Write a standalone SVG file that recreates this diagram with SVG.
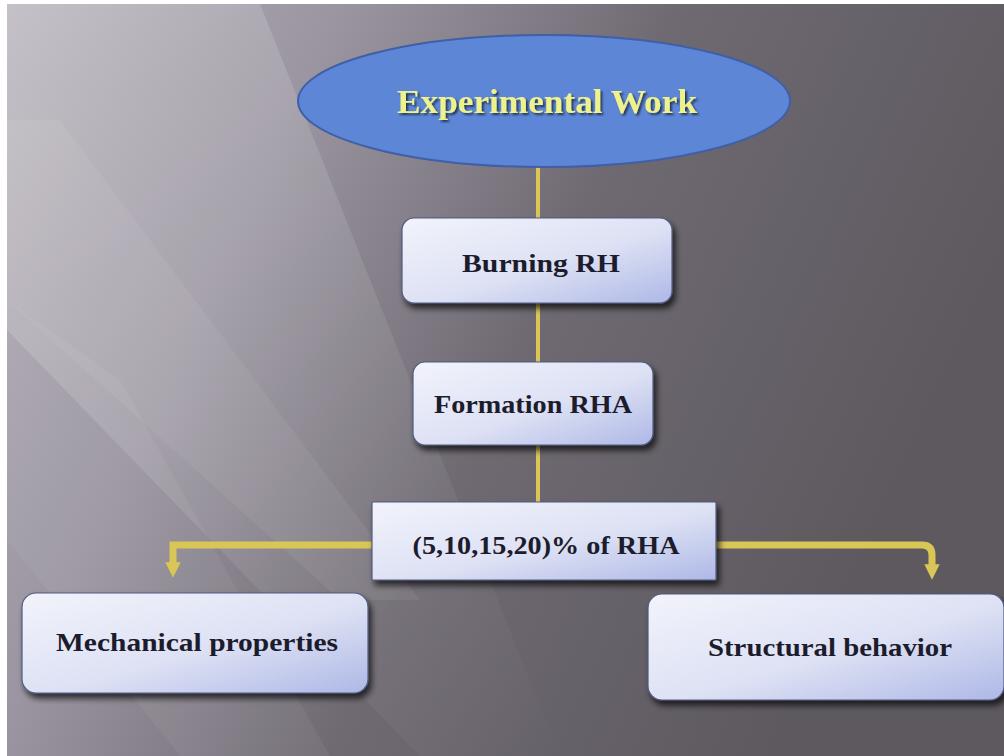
<svg xmlns="http://www.w3.org/2000/svg" width="1004" height="756" viewBox="0 0 1004 756">
  <defs>
    <linearGradient id="bg" x1="0" y1="0" x2="1" y2="0.35">
      <stop offset="0" stop-color="#b6b1b9"/>
      <stop offset="0.3" stop-color="#9a95a0"/>
      <stop offset="0.6" stop-color="#6f6a72"/>
      <stop offset="1" stop-color="#5d595f"/>
    </linearGradient>
    <linearGradient id="streak" x1="0" y1="0" x2="1" y2="1">
      <stop offset="0" stop-color="#ffffff" stop-opacity="0.2"/>
      <stop offset="1" stop-color="#ffffff" stop-opacity="0"/>
    </linearGradient>
    <linearGradient id="box" x1="0" y1="0" x2="1" y2="1">
      <stop offset="0" stop-color="#f2f3fb"/>
      <stop offset="0.55" stop-color="#dde1f4"/>
      <stop offset="1" stop-color="#aeb8e6"/>
    </linearGradient>
    <filter id="sh" x="-10%" y="-10%" width="125%" height="135%">
      <feGaussianBlur in="SourceAlpha" stdDeviation="3"/>
      <feOffset dx="3" dy="5" result="b"/>
      <feComponentTransfer><feFuncA type="linear" slope="0.7"/></feComponentTransfer>
      <feMerge><feMergeNode/><feMergeNode in="SourceGraphic"/></feMerge>
    </filter>
    <filter id="tsh" x="-5%" y="-20%" width="110%" height="150%">
      <feGaussianBlur in="SourceAlpha" stdDeviation="1"/>
      <feOffset dx="1.5" dy="1.5"/>
      <feComponentTransfer><feFuncA type="linear" slope="0.6"/></feComponentTransfer>
      <feMerge><feMergeNode/><feMergeNode in="SourceGraphic"/></feMerge>
    </filter>
    <marker id="arr" viewBox="0 0 10 10" refX="5" refY="5" markerWidth="2.2" markerHeight="2.2" orient="auto">
      <path d="M0,0 L10,5 L0,10 z" fill="#d9c657"/>
    </marker>
    <style>
      .bx { fill: url(#box); stroke: #4f5b80; stroke-width: 1.2; filter: url(#sh); }
      .lb { font-family: "Liberation Serif", "DejaVu Serif", serif; font-weight: bold; fill: #1c1c2c; text-anchor: middle; font-size: 26px; }
      .cn { fill: none; stroke: #d9c657; stroke-linecap: butt; }
    </style>
  </defs>

  <rect width="1004" height="756" fill="#ffffff"/>
  <rect x="7" y="4" width="997" height="752" fill="url(#bg)"/>
  <polygon points="7,4 260,4 560,756 420,756 7,330" fill="url(#streak)"/>
  <polygon points="7,120 60,120 420,600 340,600 7,300" fill="#ffffff" opacity="0.06"/>
  <polygon points="7,300 120,380 330,756 180,756 7,540" fill="#ffffff" opacity="0.05"/>

  <g id="connectors">
    <line class="cn" x1="538" y1="165" x2="538" y2="220" stroke-width="4"/>
    <line class="cn" x1="538" y1="303" x2="538" y2="364" stroke-width="4"/>
    <line class="cn" x1="538" y1="445" x2="538" y2="504" stroke-width="4"/>
    <path class="cn" d="M372,545 L173,545 L173,570" stroke-width="7" marker-end="url(#arr)"/>
    <path class="cn" d="M716,545 L922,545 Q932,545 932,555 L932,572" stroke-width="7" marker-end="url(#arr)"/>
  </g>

  <g id="node-experimental">
    <ellipse cx="544" cy="101" rx="246" ry="66" fill="#5d86d7" stroke="#3f5fa6" stroke-width="2"/>
    <text x="547" y="113" font-family="Liberation Serif, DejaVu Serif, serif" font-weight="bold" font-size="34" fill="#eef28a" text-anchor="middle" textLength="300" lengthAdjust="spacingAndGlyphs" filter="url(#tsh)">Experimental Work</text>
  </g>

  <g id="node-burning">
    <rect class="bx" x="402" y="218" width="270" height="85" rx="12"/>
    <text class="lb" x="541" y="272" textLength="158" lengthAdjust="spacingAndGlyphs">Burning RH</text>
  </g>

  <g id="node-formation">
    <rect class="bx" x="413" y="362" width="240" height="83" rx="12"/>
    <text class="lb" x="533" y="413" textLength="198" lengthAdjust="spacingAndGlyphs">Formation RHA</text>
  </g>

  <g id="node-percent">
    <rect class="bx" x="372" y="502" width="344" height="78" rx="1"/>
    <text class="lb" x="546" y="554" textLength="267" lengthAdjust="spacingAndGlyphs">(5,10,15,20)% of RHA</text>
  </g>

  <g id="node-mechanical">
    <rect class="bx" x="22" y="593" width="346" height="100" rx="14"/>
    <text class="lb" x="197" y="651" textLength="282" lengthAdjust="spacingAndGlyphs">Mechanical properties</text>
  </g>

  <g id="node-structural">
    <rect class="bx" x="648" y="594" width="356" height="106" rx="14"/>
    <text class="lb" x="830" y="656" textLength="244" lengthAdjust="spacingAndGlyphs">Structural behavior</text>
  </g>
</svg>
